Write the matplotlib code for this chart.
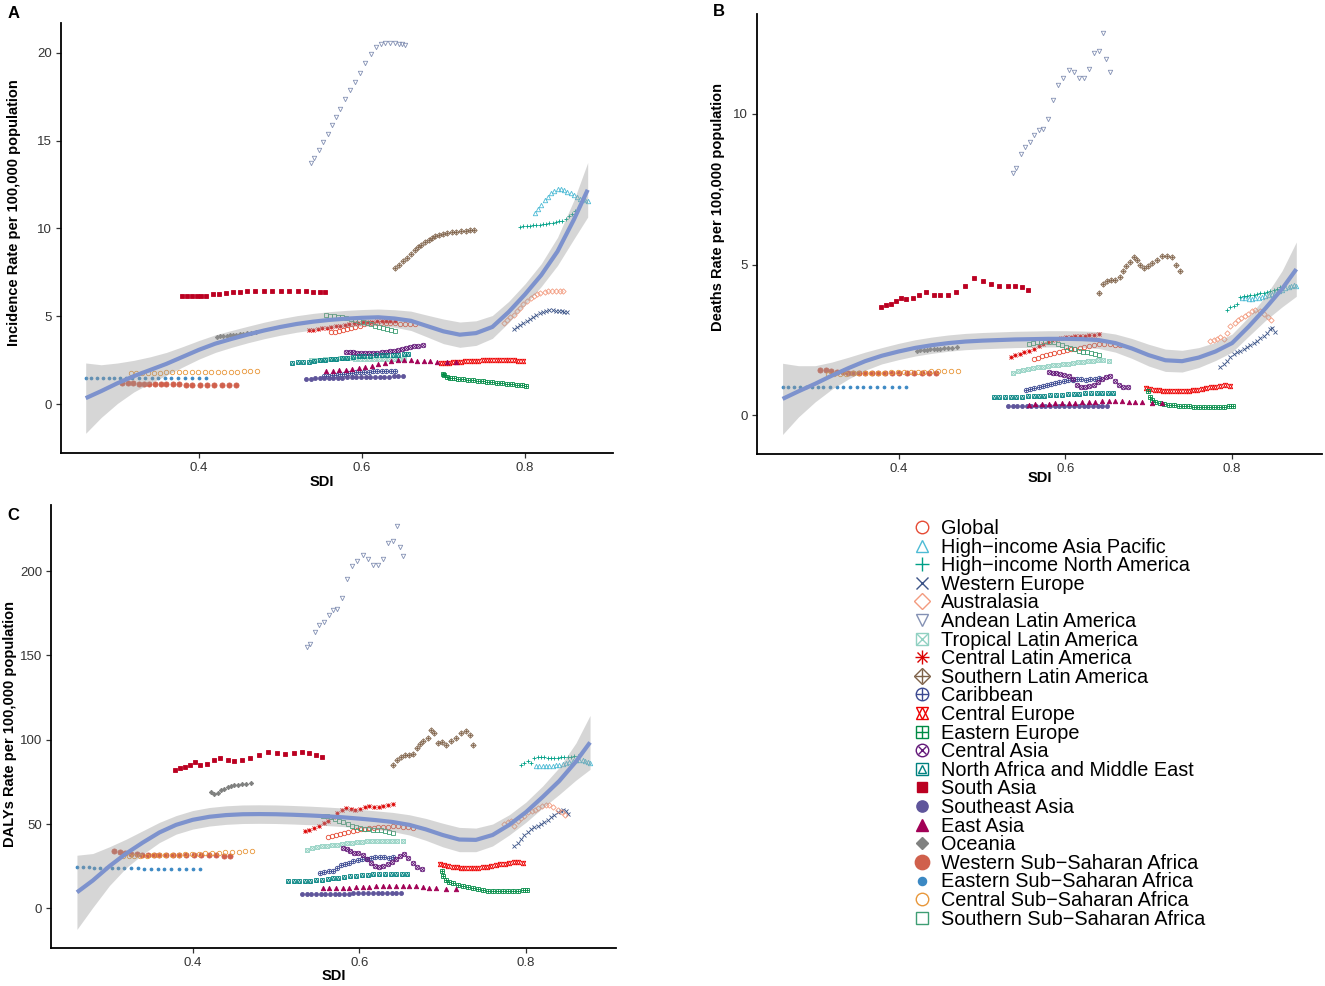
import matplotlib
matplotlib.use('Agg')
import matplotlib.pyplot as plt
from matplotlib.lines import Line2D

plt.rcParams['font.family'] = ['Liberation Sans', 'DejaVu Sans']

# ---- data: SDI and rates per region ----
sdi_global = [0.562, 0.567, 0.572, 0.577, 0.582, 0.587, 0.592, 0.597, 0.602, 0.607, 0.612, 0.618, 0.623, 0.629, 0.635, 0.641, 0.647, 0.653, 0.659, 0.665]
inc_global = [4.10, 4.14, 4.18, 4.22, 4.27, 4.33, 4.40, 4.48, 4.55, 4.60, 4.63, 4.64, 4.64, 4.63, 4.62, 4.60, 4.58, 4.57, 4.56, 4.55]
dea_global = [1.88, 1.92, 1.96, 2.00, 2.03, 2.06, 2.10, 2.13, 2.16, 2.19, 2.22, 2.25, 2.28, 2.31, 2.34, 2.36, 2.37, 2.36, 2.35, 2.34]
daly_global = [42.5, 43.0, 43.5, 44.0, 44.6, 45.2, 45.8, 46.3, 46.8, 47.2, 47.6, 47.9, 48.2, 48.4, 48.5, 48.6, 48.6, 48.4, 48.1, 47.7]

sdi_hiap = [0.812, 0.816, 0.820, 0.824, 0.828, 0.832, 0.836, 0.840, 0.844, 0.848, 0.852, 0.856, 0.860, 0.864, 0.868, 0.871, 0.874, 0.877]
inc_hiap = [10.9, 11.1, 11.35, 11.6, 11.8, 12.0, 12.15, 12.25, 12.25, 12.2, 12.1, 12.0, 11.9, 11.8, 11.7, 11.65, 11.6, 11.55]
dea_hiap = [3.90, 3.88, 3.87, 3.87, 3.88, 3.90, 3.92, 3.95, 3.98, 4.02, 4.07, 4.12, 4.17, 4.22, 4.27, 4.30, 4.32, 4.30]
daly_hiap = [84.5, 84.3, 84.2, 84.2, 84.3, 84.5, 84.8, 85.2, 85.7, 86.2, 86.8, 87.3, 87.7, 88.0, 88.0, 87.6, 87.0, 86.2]

sdi_hina = [0.794, 0.798, 0.802, 0.806, 0.810, 0.814, 0.818, 0.822, 0.826, 0.830, 0.834, 0.838, 0.842, 0.846, 0.850, 0.854, 0.858, 0.862]
inc_hina = [10.10, 10.12, 10.13, 10.15, 10.18, 10.20, 10.22, 10.25, 10.28, 10.30, 10.33, 10.36, 10.40, 10.45, 10.55, 10.70, 10.85, 11.00]
dea_hina = [3.50, 3.60, 3.62, 3.70, 3.92, 3.95, 3.96, 3.98, 4.00, 4.02, 4.05, 4.07, 4.10, 4.12, 4.15, 4.20, 4.25, 4.30]
daly_hina = [85.0, 86.0, 87.5, 86.0, 89.0, 90.0, 90.0, 89.5, 89.0, 89.0, 89.2, 89.4, 89.5, 89.6, 89.8, 90.0, 90.2, 90.5]

sdi_weur = [0.786, 0.790, 0.794, 0.798, 0.802, 0.806, 0.810, 0.814, 0.818, 0.822, 0.826, 0.830, 0.834, 0.838, 0.842, 0.845, 0.848, 0.851]
inc_weur = [4.30, 4.40, 4.50, 4.60, 4.72, 4.85, 4.97, 5.08, 5.18, 5.26, 5.32, 5.35, 5.35, 5.33, 5.30, 5.28, 5.27, 5.27]
dea_weur = [1.60, 1.70, 1.80, 1.95, 2.05, 2.10, 2.15, 2.20, 2.27, 2.33, 2.40, 2.48, 2.56, 2.64, 2.74, 2.85, 2.90, 2.78]
daly_weur = [37.0, 39.0, 41.0, 43.5, 45.5, 47.0, 48.0, 49.0, 50.0, 51.0, 52.5, 54.0, 55.5, 57.0, 58.0, 58.5, 58.0, 56.0]

sdi_aus = [0.774, 0.778, 0.782, 0.786, 0.790, 0.794, 0.798, 0.803, 0.807, 0.811, 0.815, 0.819, 0.824, 0.828, 0.833, 0.838, 0.843, 0.847]
inc_aus = [4.65, 4.80, 4.95, 5.10, 5.30, 5.50, 5.70, 5.88, 6.05, 6.18, 6.28, 6.35, 6.40, 6.43, 6.45, 6.45, 6.45, 6.45]
dea_aus = [2.48, 2.50, 2.55, 2.60, 2.55, 2.75, 2.95, 3.05, 3.15, 3.22, 3.30, 3.38, 3.45, 3.48, 3.45, 3.38, 3.25, 3.15]
daly_aus = [50.0, 51.0, 52.0, 49.0, 51.5, 53.5, 55.0, 57.0, 58.0, 58.5, 59.5, 60.5, 61.0, 61.0, 60.0, 58.5, 57.0, 55.5]

sdi_andean = [0.537, 0.541, 0.547, 0.552, 0.558, 0.563, 0.568, 0.573, 0.579, 0.585, 0.591, 0.597, 0.604, 0.611, 0.617, 0.623, 0.628, 0.634, 0.640, 0.645, 0.649, 0.653]
inc_andean = [13.7, 14.0, 14.45, 14.9, 15.4, 15.9, 16.35, 16.8, 17.35, 17.85, 18.35, 18.85, 19.4, 19.95, 20.3, 20.5, 20.55, 20.57, 20.55, 20.5, 20.47, 20.42]
dea_andean = [8.04, 8.20, 8.66, 8.90, 9.05, 9.30, 9.46, 9.50, 9.84, 10.45, 10.94, 11.20, 11.45, 11.37, 11.17, 11.20, 11.47, 12.02, 12.08, 12.67, 11.80, 11.38]
daly_andean = [154.7, 156.7, 164.0, 168.0, 170.0, 174.0, 177.0, 177.5, 184.0, 195.0, 203.0, 206.0, 209.5, 207.0, 203.5, 203.5, 207.0, 216.8, 217.8, 227.0, 214.0, 208.7]

sdi_trop = [0.537, 0.543, 0.549, 0.555, 0.561, 0.567, 0.573, 0.579, 0.585, 0.591, 0.597, 0.603, 0.609, 0.615, 0.621, 0.627, 0.633, 0.639, 0.645, 0.652]
inc_trop = [2.50, 2.52, 2.54, 2.56, 2.58, 2.60, 2.62, 2.63, 2.62, 2.60, 2.58, 2.57, 2.56, 2.56, 2.56, 2.57, 2.58, 2.59, 2.60, 2.60]
dea_trop = [1.42, 1.48, 1.52, 1.55, 1.58, 1.60, 1.62, 1.64, 1.66, 1.68, 1.70, 1.72, 1.74, 1.76, 1.78, 1.80, 1.82, 1.83, 1.84, 1.82]
daly_trop = [34.5, 35.5, 36.3, 36.8, 37.2, 37.5, 37.8, 38.2, 38.6, 39.0, 39.3, 39.6, 39.8, 40.0, 40.0, 40.0, 39.8, 39.7, 40.0, 40.2]

sdi_clat = [0.535, 0.540, 0.546, 0.551, 0.557, 0.562, 0.568, 0.573, 0.579, 0.584, 0.590, 0.595, 0.601, 0.607, 0.612, 0.618, 0.624, 0.629, 0.635, 0.641]
inc_clat = [4.20, 4.24, 4.28, 4.32, 4.36, 4.40, 4.44, 4.48, 4.52, 4.56, 4.60, 4.63, 4.66, 4.68, 4.70, 4.72, 4.73, 4.74, 4.75, 4.75]
dea_clat = [1.95, 2.00, 2.05, 2.10, 2.15, 2.22, 2.30, 2.38, 2.45, 2.50, 2.54, 2.57, 2.60, 2.60, 2.62, 2.63, 2.65, 2.66, 2.68, 2.70]
daly_clat = [46.0, 46.5, 47.5, 49.0, 50.5, 52.0, 54.0, 56.5, 58.5, 59.5, 59.0, 58.5, 59.0, 60.0, 60.5, 60.0, 60.0, 60.5, 61.5, 62.0]

sdi_slat = [0.641, 0.645, 0.650, 0.655, 0.660, 0.665, 0.669, 0.673, 0.677, 0.682, 0.686, 0.690, 0.694, 0.699, 0.704, 0.710, 0.716, 0.722, 0.728, 0.733, 0.737]
inc_slat = [7.75, 7.95, 8.15, 8.35, 8.55, 8.75, 8.92, 9.08, 9.22, 9.35, 9.46, 9.55, 9.62, 9.68, 9.73, 9.78, 9.82, 9.85, 9.88, 9.90, 9.90]
dea_slat = [4.06, 4.35, 4.45, 4.50, 4.48, 4.60, 4.80, 4.95, 5.10, 5.25, 5.15, 5.00, 4.90, 4.95, 5.05, 5.15, 5.30, 5.28, 5.25, 5.00, 4.80]
daly_slat = [85.0, 88.0, 90.0, 91.0, 91.0, 91.5, 95.0, 97.5, 99.0, 101.0, 106.0, 104.0, 98.0, 98.5, 97.0, 99.0, 101.0, 104.0, 105.0, 103.0, 97.0]

sdi_carib = [0.553, 0.558, 0.563, 0.568, 0.573, 0.578, 0.583, 0.588, 0.593, 0.598, 0.603, 0.609, 0.614, 0.619, 0.625, 0.630, 0.636, 0.641]
inc_carib = [1.60, 1.63, 1.66, 1.69, 1.72, 1.75, 1.77, 1.79, 1.81, 1.83, 1.85, 1.86, 1.87, 1.88, 1.88, 1.89, 1.90, 1.90]
dea_carib = [0.86, 0.88, 0.90, 0.93, 0.98, 1.02, 1.05, 1.08, 1.10, 1.13, 1.16, 1.18, 1.20, 1.20, 1.19, 1.20, 1.22, 1.23]
daly_carib = [21.0, 21.5, 22.0, 22.0, 24.0, 25.5, 26.0, 27.0, 28.0, 28.5, 29.0, 29.5, 30.0, 30.5, 30.5, 30.5, 30.0, 30.5]

sdi_ceur = [0.697, 0.702, 0.707, 0.712, 0.717, 0.722, 0.727, 0.733, 0.738, 0.743, 0.748, 0.753, 0.758, 0.764, 0.769, 0.775, 0.780, 0.786, 0.791, 0.797]
inc_ceur = [2.35, 2.36, 2.37, 2.39, 2.40, 2.42, 2.44, 2.46, 2.47, 2.48, 2.50, 2.51, 2.52, 2.53, 2.54, 2.54, 2.53, 2.50, 2.47, 2.45]
dea_ceur = [0.90, 0.88, 0.86, 0.84, 0.82, 0.81, 0.80, 0.80, 0.80, 0.81, 0.82, 0.83, 0.85, 0.87, 0.90, 0.93, 0.96, 0.98, 1.00, 0.98]
daly_ceur = [26.0, 25.5, 25.0, 24.7, 24.4, 24.2, 24.0, 24.0, 24.0, 24.2, 24.5, 24.8, 25.2, 25.6, 26.0, 26.5, 27.0, 27.2, 27.3, 27.0]

sdi_eeur = [0.699, 0.701, 0.704, 0.708, 0.713, 0.718, 0.724, 0.730, 0.736, 0.742, 0.748, 0.754, 0.760, 0.766, 0.772, 0.778, 0.784, 0.790, 0.796, 0.801]
inc_eeur = [1.72, 1.65, 1.58, 1.52, 1.48, 1.45, 1.42, 1.40, 1.37, 1.34, 1.31, 1.28, 1.25, 1.22, 1.19, 1.16, 1.13, 1.10, 1.07, 1.05]
dea_eeur = [0.80, 0.60, 0.50, 0.45, 0.42, 0.38, 0.36, 0.35, 0.33, 0.32, 0.30, 0.29, 0.28, 0.27, 0.27, 0.27, 0.28, 0.29, 0.31, 0.33]
daly_eeur = [22.0, 19.0, 17.0, 15.5, 14.8, 14.0, 13.2, 12.5, 11.8, 11.2, 10.8, 10.4, 10.1, 10.0, 10.0, 10.0, 10.0, 10.3, 10.8, 11.0]

sdi_casia = [0.581, 0.585, 0.589, 0.594, 0.599, 0.604, 0.609, 0.614, 0.619, 0.624, 0.629, 0.634, 0.639, 0.644, 0.649, 0.654, 0.659, 0.664, 0.669, 0.675]
inc_casia = [3.00, 2.98, 2.96, 2.94, 2.92, 2.90, 2.89, 2.90, 2.92, 2.95, 2.98, 3.02, 3.06, 3.10, 3.15, 3.20, 3.25, 3.30, 3.34, 3.37]
dea_casia = [1.43, 1.42, 1.40, 1.37, 1.33, 1.30, 1.20, 1.00, 0.96, 0.95, 0.97, 1.02, 1.10, 1.20, 1.28, 1.32, 1.15, 1.00, 0.95, 0.93]
daly_casia = [36.0, 35.0, 34.0, 33.0, 33.0, 31.5, 29.0, 27.0, 25.0, 24.5, 25.0, 26.0, 27.5, 29.0, 31.0, 32.5, 30.0, 27.0, 24.5, 23.5]

sdi_name = [0.514, 0.521, 0.528, 0.535, 0.541, 0.548, 0.555, 0.562, 0.568, 0.575, 0.582, 0.589, 0.596, 0.603, 0.610, 0.617, 0.624, 0.631, 0.638, 0.644, 0.651, 0.657]
inc_name = [2.35, 2.38, 2.40, 2.43, 2.46, 2.50, 2.53, 2.56, 2.60, 2.63, 2.66, 2.69, 2.72, 2.74, 2.76, 2.78, 2.80, 2.81, 2.82, 2.83, 2.84, 2.85]
dea_name = [0.60, 0.60, 0.60, 0.60, 0.61, 0.62, 0.63, 0.64, 0.65, 0.66, 0.67, 0.68, 0.69, 0.70, 0.71, 0.72, 0.73, 0.74, 0.74, 0.75, 0.75, 0.75]
daly_name = [16.0, 16.0, 16.0, 16.2, 16.4, 16.6, 17.0, 17.4, 17.8, 18.2, 18.6, 19.0, 19.4, 19.8, 20.0, 20.2, 20.4, 20.5, 20.5, 20.5, 20.5, 20.5]

sdi_sasia = [0.379, 0.385, 0.391, 0.397, 0.403, 0.409, 0.417, 0.425, 0.433, 0.442, 0.450, 0.459, 0.469, 0.480, 0.490, 0.501, 0.511, 0.521, 0.531, 0.540, 0.548, 0.555]
inc_sasia = [6.15, 6.15, 6.15, 6.15, 6.15, 6.18, 6.25, 6.30, 6.35, 6.38, 6.40, 6.42, 6.42, 6.42, 6.42, 6.42, 6.42, 6.42, 6.42, 6.40, 6.40, 6.40]
dea_sasia = [3.60, 3.65, 3.70, 3.80, 3.90, 3.85, 3.90, 4.00, 4.10, 4.00, 3.98, 4.00, 4.10, 4.30, 4.55, 4.45, 4.35, 4.30, 4.30, 4.30, 4.25, 4.15]
daly_sasia = [82.0, 83.0, 84.0, 85.0, 86.5, 85.0, 85.5, 88.0, 89.0, 88.0, 87.5, 88.0, 89.0, 91.0, 93.0, 92.0, 91.5, 92.0, 92.5, 92.0, 91.0, 90.0]

sdi_seasia = [0.531, 0.537, 0.542, 0.548, 0.554, 0.559, 0.565, 0.571, 0.576, 0.582, 0.588, 0.593, 0.599, 0.605, 0.610, 0.616, 0.622, 0.627, 0.633, 0.639, 0.644, 0.650]
inc_seasia = [1.45, 1.46, 1.47, 1.48, 1.49, 1.50, 1.50, 1.51, 1.52, 1.53, 1.54, 1.54, 1.55, 1.56, 1.56, 1.57, 1.57, 1.58, 1.58, 1.59, 1.60, 1.60]
dea_seasia = [0.30, 0.30, 0.30, 0.30, 0.30, 0.30, 0.31, 0.31, 0.31, 0.31, 0.31, 0.31, 0.32, 0.32, 0.32, 0.32, 0.32, 0.32, 0.32, 0.32, 0.32, 0.32]
daly_seasia = [8.5, 8.5, 8.5, 8.5, 8.5, 8.6, 8.6, 8.6, 8.7, 8.7, 8.7, 8.8, 8.8, 8.8, 8.9, 8.9, 8.9, 9.0, 9.0, 9.0, 9.0, 9.0]

sdi_easia = [0.556, 0.564, 0.572, 0.580, 0.588, 0.596, 0.604, 0.612, 0.620, 0.628, 0.636, 0.644, 0.652, 0.660, 0.668, 0.676, 0.684, 0.692, 0.704, 0.716]
inc_easia = [1.88, 1.90, 1.93, 1.97, 2.02, 2.08, 2.14, 2.20, 2.28, 2.36, 2.44, 2.50, 2.52, 2.50, 2.48, 2.46, 2.44, 2.42, 2.40, 2.38]
dea_easia = [0.36, 0.37, 0.38, 0.39, 0.40, 0.41, 0.42, 0.43, 0.44, 0.45, 0.46, 0.47, 0.48, 0.48, 0.47, 0.46, 0.45, 0.44, 0.42, 0.41]
daly_easia = [12.0, 12.0, 12.0, 12.0, 12.2, 12.4, 12.6, 12.8, 13.0, 13.2, 13.4, 13.5, 13.5, 13.3, 13.0, 12.7, 12.3, 12.0, 11.7, 11.5]

sdi_ocean = [0.422, 0.426, 0.430, 0.434, 0.438, 0.442, 0.446, 0.450, 0.454, 0.459, 0.464, 0.470]
inc_ocean = [3.85, 3.87, 3.89, 3.91, 3.93, 3.95, 3.97, 3.99, 4.01, 4.04, 4.07, 4.10]
dea_ocean = [2.15, 2.16, 2.17, 2.18, 2.19, 2.20, 2.21, 2.22, 2.23, 2.24, 2.25, 2.26]
daly_ocean = [69.0, 68.0, 68.5, 70.0, 71.0, 72.0, 72.5, 73.0, 73.0, 73.5, 74.0, 74.5]

sdi_wssa = [0.306, 0.313, 0.319, 0.326, 0.333, 0.339, 0.346, 0.353, 0.360, 0.368, 0.376, 0.384, 0.392, 0.401, 0.410, 0.419, 0.428, 0.437, 0.445]
inc_wssa = [1.22, 1.20, 1.19, 1.18, 1.17, 1.16, 1.15, 1.14, 1.14, 1.13, 1.13, 1.12, 1.12, 1.11, 1.11, 1.10, 1.10, 1.10, 1.10]
dea_wssa = [1.52, 1.50, 1.47, 1.45, 1.43, 1.42, 1.41, 1.41, 1.41, 1.41, 1.41, 1.41, 1.41, 1.41, 1.41, 1.41, 1.40, 1.40, 1.40]
daly_wssa = [34.0, 33.5, 33.0, 32.5, 32.0, 31.8, 31.5, 31.5, 31.5, 31.5, 31.5, 31.6, 31.7, 31.8, 31.8, 31.7, 31.5, 31.2, 31.0]

sdi_essa = [0.261, 0.268, 0.275, 0.282, 0.289, 0.296, 0.303, 0.310, 0.318, 0.326, 0.334, 0.342, 0.350, 0.358, 0.366, 0.374, 0.383, 0.392, 0.400, 0.409]
inc_essa = [1.50, 1.50, 1.50, 1.50, 1.50, 1.50, 1.49, 1.49, 1.49, 1.49, 1.49, 1.49, 1.49, 1.49, 1.49, 1.50, 1.50, 1.50, 1.50, 1.50]
dea_essa = [0.96, 0.96, 0.95, 0.95, 0.95, 0.94, 0.94, 0.94, 0.94, 0.94, 0.94, 0.94, 0.94, 0.94, 0.94, 0.94, 0.95, 0.95, 0.95, 0.95]
daly_essa = [24.5, 24.4, 24.3, 24.2, 24.1, 24.0, 23.9, 23.8, 23.8, 23.7, 23.7, 23.6, 23.6, 23.6, 23.5, 23.5, 23.5, 23.5, 23.5, 23.5]

sdi_cssa = [0.316, 0.323, 0.330, 0.337, 0.345, 0.352, 0.360, 0.367, 0.375, 0.383, 0.391, 0.399, 0.407, 0.415, 0.423, 0.431, 0.439, 0.447, 0.455, 0.463, 0.471]
inc_cssa = [1.78, 1.78, 1.79, 1.79, 1.80, 1.80, 1.81, 1.81, 1.82, 1.82, 1.83, 1.83, 1.84, 1.84, 1.85, 1.85, 1.86, 1.86, 1.87, 1.87, 1.87]
dea_cssa = [1.38, 1.38, 1.39, 1.39, 1.40, 1.40, 1.41, 1.41, 1.42, 1.42, 1.43, 1.43, 1.44, 1.44, 1.45, 1.45, 1.46, 1.46, 1.47, 1.47, 1.48]
daly_cssa = [31.0, 31.0, 31.1, 31.2, 31.3, 31.4, 31.5, 31.6, 31.7, 31.8, 32.0, 32.2, 32.4, 32.6, 32.8, 33.0, 33.2, 33.4, 33.6, 33.8, 34.0]

sdi_sssa = [0.556, 0.561, 0.566, 0.571, 0.576, 0.581, 0.586, 0.591, 0.596, 0.601, 0.606, 0.611, 0.616, 0.621, 0.626, 0.631, 0.636, 0.641]
inc_sssa = [5.06, 5.04, 5.01, 4.98, 4.94, 4.90, 4.85, 4.79, 4.73, 4.67, 4.61, 4.55, 4.48, 4.41, 4.34, 4.28, 4.22, 4.18]
dea_sssa = [2.38, 2.40, 2.43, 2.45, 2.46, 2.45, 2.42, 2.38, 2.33, 2.28, 2.23, 2.19, 2.15, 2.12, 2.09, 2.06, 2.03, 2.00]
daly_sssa = [55.0, 54.5, 54.0, 53.0, 52.0, 51.0, 50.0, 49.0, 48.0, 47.5, 47.0, 46.8, 46.6, 46.5, 46.3, 45.8, 45.2, 44.5]

# ---- smoothed fit + confidence band ----
fit_sdi = [0.261, 0.28, 0.30, 0.32, 0.34, 0.36, 0.38, 0.40, 0.42, 0.44, 0.46, 0.48, 0.50, 0.52, 0.54, 0.56,
           0.58, 0.60, 0.62, 0.64, 0.66, 0.68, 0.70, 0.72, 0.74, 0.76, 0.78, 0.80, 0.82, 0.84, 0.86, 0.877]
fit_inc = [0.35, 0.75, 1.20, 1.60, 1.95, 2.30, 2.70, 3.10, 3.45, 3.72, 3.97, 4.20, 4.40, 4.57, 4.70, 4.80,
           4.87, 4.92, 4.95, 4.88, 4.75, 4.45, 4.15, 3.96, 4.05, 4.40, 5.25, 6.25, 7.35, 8.70, 10.50, 12.20]
band_inc = [2.0, 1.5, 1.15, 0.9, 0.75, 0.65, 0.58, 0.53, 0.50, 0.48, 0.47, 0.47, 0.47, 0.47, 0.47, 0.47,
            0.47, 0.47, 0.47, 0.50, 0.55, 0.62, 0.70, 0.72, 0.70, 0.65, 0.60, 0.60, 0.65, 0.80, 1.10, 1.55]
fit_dea = [0.55, 0.80, 1.05, 1.32, 1.57, 1.80, 1.98, 2.12, 2.24, 2.33, 2.40, 2.45, 2.48, 2.50, 2.52, 2.53,
           2.54, 2.54, 2.53, 2.50, 2.40, 2.22, 2.00, 1.83, 1.80, 1.92, 2.12, 2.40, 2.95, 3.55, 4.20, 4.85]
band_dea = [1.18, 0.85, 0.60, 0.45, 0.36, 0.30, 0.27, 0.27, 0.27, 0.27, 0.27, 0.27, 0.27, 0.27, 0.27, 0.27,
            0.27, 0.27, 0.27, 0.28, 0.30, 0.33, 0.36, 0.37, 0.36, 0.33, 0.30, 0.30, 0.32, 0.40, 0.60, 0.90]
fit_daly = [9.5, 16.5, 25.0, 32.5, 39.0, 45.0, 49.5, 52.5, 54.3, 55.3, 55.8, 55.9, 55.8, 55.5, 55.1, 54.6,
            54.0, 53.2, 52.3, 51.2, 49.5, 46.8, 43.5, 40.8, 40.6, 43.5, 49.5, 57.0, 66.0, 75.5, 87.0, 98.4]
band_daly = [22.0, 16.0, 11.5, 8.5, 7.0, 6.0, 5.5, 5.5, 5.5, 5.5, 5.5, 5.5, 5.5, 5.5, 5.5, 5.5,
             5.5, 5.5, 5.5, 5.7, 6.0, 6.5, 7.0, 7.2, 7.0, 6.5, 6.0, 6.0, 6.5, 8.0, 11.0, 16.0]

region_names = ['Global', 'High\u2212income Asia Pacific', 'High\u2212income North America', 'Western Europe',
                'Australasia', 'Andean Latin America', 'Tropical Latin America', 'Central Latin America',
                'Southern Latin America', 'Caribbean', 'Central Europe', 'Eastern Europe', 'Central Asia',
                'North Africa and Middle East', 'South Asia', 'Southeast Asia', 'East Asia', 'Oceania',
                'Western Sub\u2212Saharan Africa', 'Eastern Sub\u2212Saharan Africa',
                'Central Sub\u2212Saharan Africa', 'Southern Sub\u2212Saharan Africa']

region_data = [
    (sdi_global, inc_global, dea_global, daly_global),
    (sdi_hiap, inc_hiap, dea_hiap, daly_hiap),
    (sdi_hina, inc_hina, dea_hina, daly_hina),
    (sdi_weur, inc_weur, dea_weur, daly_weur),
    (sdi_aus, inc_aus, dea_aus, daly_aus),
    (sdi_andean, inc_andean, dea_andean, daly_andean),
    (sdi_trop, inc_trop, dea_trop, daly_trop),
    (sdi_clat, inc_clat, dea_clat, daly_clat),
    (sdi_slat, inc_slat, dea_slat, daly_slat),
    (sdi_carib, inc_carib, dea_carib, daly_carib),
    (sdi_ceur, inc_ceur, dea_ceur, daly_ceur),
    (sdi_eeur, inc_eeur, dea_eeur, daly_eeur),
    (sdi_casia, inc_casia, dea_casia, daly_casia),
    (sdi_name, inc_name, dea_name, daly_name),
    (sdi_sasia, inc_sasia, dea_sasia, daly_sasia),
    (sdi_seasia, inc_seasia, dea_seasia, daly_seasia),
    (sdi_easia, inc_easia, dea_easia, daly_easia),
    (sdi_ocean, inc_ocean, dea_ocean, daly_ocean),
    (sdi_wssa, inc_wssa, dea_wssa, daly_wssa),
    (sdi_essa, inc_essa, dea_essa, daly_essa),
    (sdi_cssa, inc_cssa, dea_cssa, daly_cssa),
    (sdi_sssa, inc_sssa, dea_sssa, daly_sssa),
]

colors = ['#E64B35', '#4DBBD5', '#00A087', '#3C5488', '#F39B7F', '#8491B4', '#91D1C2', '#DC0000',
          '#7E6148', '#3B4992', '#EE0000', '#008B45', '#631879', '#008280', '#BB0021', '#5F559B',
          '#A20056', '#808180', '#D0604C', '#3B88C3', '#E8973A', '#3E9E74']

# ggplot shapes 1..22 built from matplotlib markers: (marker, filled, size scale)
shapes = [
    [('o', False, 1.0)], [('^', False, 1.0)], [('+', True, 1.1)], [('x', True, 0.9)],
    [('D', False, 0.85)], [('v', False, 1.0)], [('s', False, 0.95), ('x', True, 0.9)],
    [('+', True, 1.1), ('x', True, 0.8)], [('D', False, 0.85), ('+', True, 1.1)],
    [('o', False, 1.0), ('+', True, 1.0)], [('^', False, 1.0), ('v', False, 1.0)],
    [('s', False, 0.95), ('+', True, 0.95)], [('o', False, 1.0), ('x', True, 0.7)],
    [('s', False, 0.95), ('^', False, 0.7)], [('s', True, 0.85)], [('o', True, 0.9)],
    [('^', True, 1.0)], [('D', True, 0.7)], [('o', True, 1.15)], [('o', True, 0.65)],
    [('o', False, 1.0)], [('s', False, 0.95)],
]


def draw_region(ax, x, y, color, shape, ms):
    for m, filled, k in shape:
        face = color if (filled and m not in '+x') else 'none'
        ax.plot(x, y, linestyle='none', marker=m, ms=ms * k, mfc=face, mec=color, mew=0.6, zorder=2)


def style_axis(ax, ylim, yticks, ylabel, ylab_pos, xlab_pos):
    ax.set_xlim(0.2302, 0.9078)
    ax.set_ylim(*ylim)
    ax.set_xticks([0.4, 0.6, 0.8])
    ax.set_xticklabels(['0.4', '0.6', '0.8'])
    ax.set_yticks(yticks)
    ax.spines['top'].set_visible(False)
    ax.spines['right'].set_visible(False)
    for s in ('left', 'bottom'):
        ax.spines[s].set_linewidth(1.3)
        ax.spines[s].set_color('black')
    ax.tick_params(length=3.5, width=0.9, color='#333333', labelsize=9.5, labelcolor='#333333', pad=3)
    ax.set_xlabel('SDI', fontweight='bold', fontsize=10.5)
    ax.set_ylabel(ylabel, fontweight='bold', fontsize=10.5)
    ax.yaxis.set_label_coords(*ylab_pos)
    ax.xaxis.set_label_coords(*xlab_pos)


W, H = 1325, 986
fig = plt.figure(figsize=(W / 100, H / 100), dpi=100)


def px_axes(left, top, right, bottom):
    return fig.add_axes([left / W, 1 - bottom / H, (right - left) / W, (bottom - top) / H])


axA = px_axes(60.6, 22.8, 612.8, 453.0)
axB = px_axes(756.9, 14.2, 1322.0, 453.5)
axC = px_axes(51.3, 505.3, 615.7, 947.8)

panels = [
    (axA, 1, fit_inc, band_inc, (-2.77, 21.7), [0, 5, 10, 15, 20], 'Incidence Rate per 100,000 population',
     (-0.072, 0.558), (0.473, -0.051)),
    (axB, 2, fit_dea, band_dea, (-1.26, 13.3), [0, 5, 10], 'Deaths Rate per 100,000 population',
     (-0.056, 0.562), (0.5, -0.040)),
    (axC, 3, fit_daly, band_daly, (-23.4, 239.0), [0, 50, 100, 150, 200], 'DALYs Rate per 100,000 population',
     (-0.061, 0.506), (0.5, -0.048)),
]

for ax, col, fit, band, ylim, yticks, ylabel, ylab_pos, xlab_pos in panels:
    for data, color, shape in zip(region_data, colors, shapes):
        draw_region(ax, data[0], data[col], color, shape, 3.2)
    lo = [f - b for f, b in zip(fit, band)]
    hi = [f + b for f, b in zip(fit, band)]
    ax.fill_between(fit_sdi, lo, hi, color='#9a9a9a', alpha=0.4, linewidth=0, zorder=3)
    ax.plot(fit_sdi, fit, color='#7D92CD', linewidth=3.0, zorder=4, solid_capstyle='butt')
    style_axis(ax, ylim, yticks, ylabel, ylab_pos, xlab_pos)

fig.text(8 / W, 1 - 14 / H, 'A', fontweight='bold', fontsize=12, va='center')
fig.text(713 / W, 1 - 12 / H, 'B', fontweight='bold', fontsize=12, va='center')
fig.text(7 / W, 1 - 515 / H, 'C', fontweight='bold', fontsize=12, va='center')

# legend
handles = []
for color, shape in zip(colors, shapes):
    parts = []
    for m, filled, k in shape:
        face = color if (filled and m not in '+x') else 'none'
        parts.append(Line2D([], [], linestyle='none', marker=m, ms=9 * k, mfc=face, mec=color, mew=1.0))
    handles.append(tuple(parts) if len(parts) > 1 else parts[0])

fig.legend(handles, region_names, loc='upper left', bbox_to_anchor=(910 / W, 1 - 519 / H),
           frameon=False, fontsize=14.3, labelspacing=-0.02, handlelength=1.2, handletextpad=0.35,
           borderpad=0, borderaxespad=0)

fig.savefig('out.png', dpi=100)
